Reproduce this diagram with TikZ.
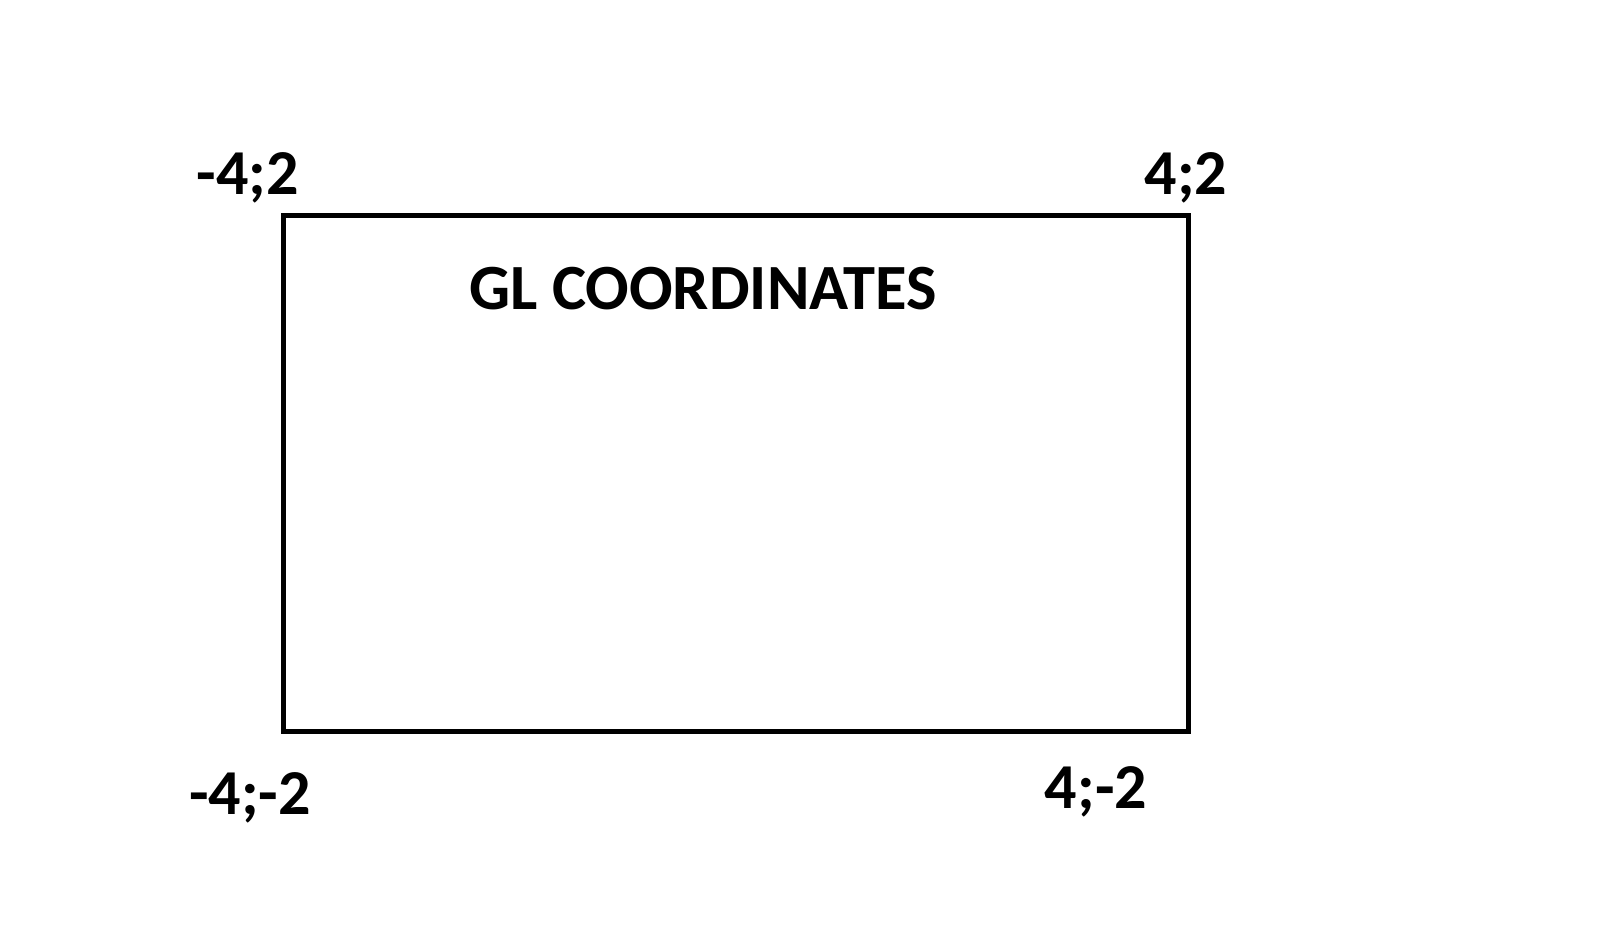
\documentclass[tikz,border=0pt]{standalone}
\usepackage{fontspec}
\setmainfont{Carlito}
\begin{document}
\begin{tikzpicture}[x=1pt,y=-1pt,
  lab/.style={inner sep=0pt,font=\fontsize{64}{64}\selectfont\bfseries},
  ttl/.style={inner sep=0pt,font=\fontsize{64.5}{64}\selectfont\bfseries}]
\useasboundingbox[fill=white] (0,0) rectangle (1620,940);
\node[draw,line width=5pt,minimum width=905pt,minimum height=516pt,inner sep=0pt] (box) at (736,473) {};
\node[lab] (tl) at (248,178) {-4;2};
\node[lab] (tr) at (1186,178) {4;2};
\node[lab] (bl) at (250,798) {-4;-2};
\node[lab] (br) at (1096,792) {4;-2};
\node[ttl] (title) at (703,289) {GL COORDINATES};
\end{tikzpicture}
\end{document}
